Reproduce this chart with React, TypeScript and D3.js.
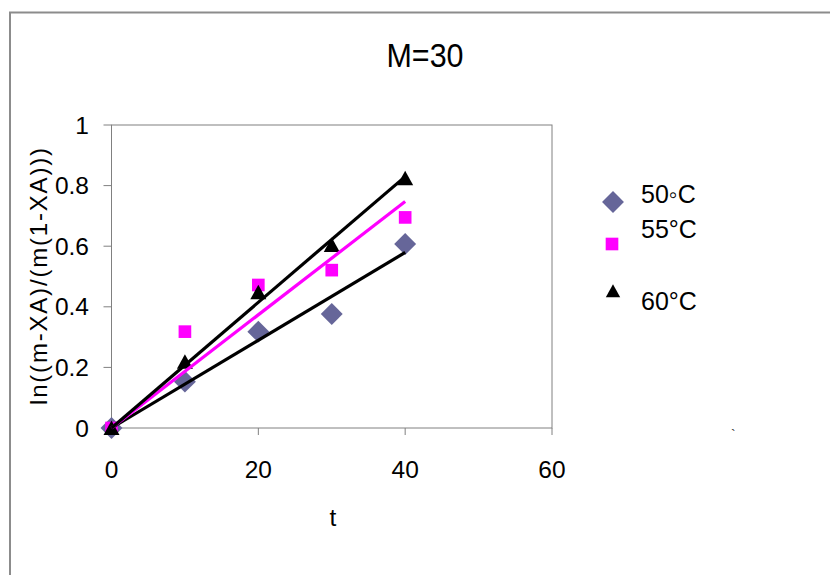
import React from "react";
import * as d3 from "d3";

// reaction time t
const times = [0, 10, 20, 30, 40];
// ln((m-XA)/(m(1-XA))) for each temperature
const series50 = [0, 0.153, 0.318, 0.376, 0.607];
const series55 = [0, 0.318, 0.472, 0.521, 0.695];
const series60 = [0, 0.219, 0.448, 0.604, 0.824];
const seriesNames = ["50\u25E6C", "55°C", "60°C"];
const xTicks = [0, 20, 40, 60];
const yTicks = [0, 0.2, 0.4, 0.6, 0.8, 1];

const W = 830;
const H = 575;
const plot = {left: 111.5, right: 552, top: 125, bottom: 428};
const font = "'Liberation Sans', Arial, sans-serif";

// linear trendline forced through origin (Excel "set intercept = 0")
function slopeThroughOrigin(xs: number[], ys: number[]) {
    const sxy = d3.sum(xs, (x, i) => x * ys[i]);
    const sxx = d3.sum(xs, x => x * x);
    return sxy / sxx;
}

const diamond = d3.symbol().type(d3.symbolSquare).size(240)();
const square = d3.symbol().type(d3.symbolSquare).size(160)();
const triangle = "M0,-7.5L8,7L-8,7Z";

export default function App() {
    const x = d3.scaleLinear().domain([0, 60]).range([plot.left, plot.right]);
    const y = d3.scaleLinear().domain([0, 1]).range([plot.bottom, plot.top]);
    const line = d3.line<[number, number]>().x(d => x(d[0])).y(d => y(d[1]));

    const trend = (vals: number[]) => {
        const k = slopeThroughOrigin(times, vals);
        return line([[0, 0], [d3.max(times)!, k * d3.max(times)!]]) || "";
    };

    const marker = (kind: number, cx: number, cy: number, key: string) => {
        if (kind === 0)
            return <path key={key} d={diamond} fill="#666699" transform={`translate(${cx},${cy}) rotate(45)`}/>;
        if (kind === 1)
            return <path key={key} d={square} fill="#FF00FF" transform={`translate(${cx},${cy})`}/>;
        return <path key={key} d={triangle} fill="#000" transform={`translate(${cx},${cy})`}/>;
    };

    const allSeries = [series50, series55, series60];
    const gray = "#808080";

    return (
        <svg width={W} height={H} style={{position: "absolute", left: 0, top: 0, background: "#fff"}}
             fontFamily={font}>
            <rect x={0} y={0} width={W} height={H} fill="#fff"/>
            {/* chart area frame, runs off the right and bottom edge */}
            <path d={`M10,${H}V12.5H${W}`} fill="none" stroke="#8c8c8c" strokeWidth={2}/>

            <text x={425} y={67} textAnchor="middle" fontSize={33} textLength={77}
                  lengthAdjust="spacingAndGlyphs">M=30</text>

            {/* plot frame */}
            <rect x={plot.left} y={plot.top} width={plot.right - plot.left} height={plot.bottom - plot.top}
                  fill="none" stroke={gray} strokeWidth={1}/>

            {yTicks.map(t => (
                <g key={"y" + t}>
                    <line x1={plot.left - 8} x2={plot.left} y1={y(t)} y2={y(t)} stroke={gray}/>
                    <text x={89} y={y(t) + 8.5} textAnchor="end" fontSize={24.5}>{t}</text>
                </g>
            ))}
            {xTicks.map(t => (
                <g key={"x" + t}>
                    <line x1={x(t)} x2={x(t)} y1={plot.bottom} y2={plot.bottom + 7} stroke={gray}/>
                    <text x={x(t)} y={478} textAnchor="middle" fontSize={24.5}>{t}</text>
                </g>
            ))}

            <text x={333} y={526} textAnchor="middle" fontSize={24.5}>t</text>
            <text transform="translate(47,405) rotate(-90)" x={0} y={0} fontSize={24} textLength={257}
                  lengthAdjust="spacing">ln((m-XA)/(m(1-XA)))</text>

            {allSeries.map((vals, s) =>
                vals.map((v, i) => marker(s, x(times[i]), y(v), `m${s}-${i}`))
            )}

            <path d={trend(series50)} stroke="#000" strokeWidth={3.2} fill="none"/>
            <path d={trend(series55)} stroke="#FF00FF" strokeWidth={3.2} fill="none"/>
            <path d={trend(series60)} stroke="#000" strokeWidth={3.2} fill="none"/>

            {/* legend */}
            {marker(0, 613, 202, "l0")}
            {marker(1, 612, 244, "l1")}
            <path d={triangle} transform="translate(613,291) scale(0.9)" fill="#000"/>
            <text x={641} y={203} fontSize={25}>{seriesNames[0]}</text>
            <text x={641} y={238} fontSize={25}>{seriesNames[1]}</text>
            <text x={641} y={310} fontSize={25}>{seriesNames[2]}</text>

            <text x={731} y={440} fontSize={14} fill="#333">`</text>
        </svg>
    );
}
